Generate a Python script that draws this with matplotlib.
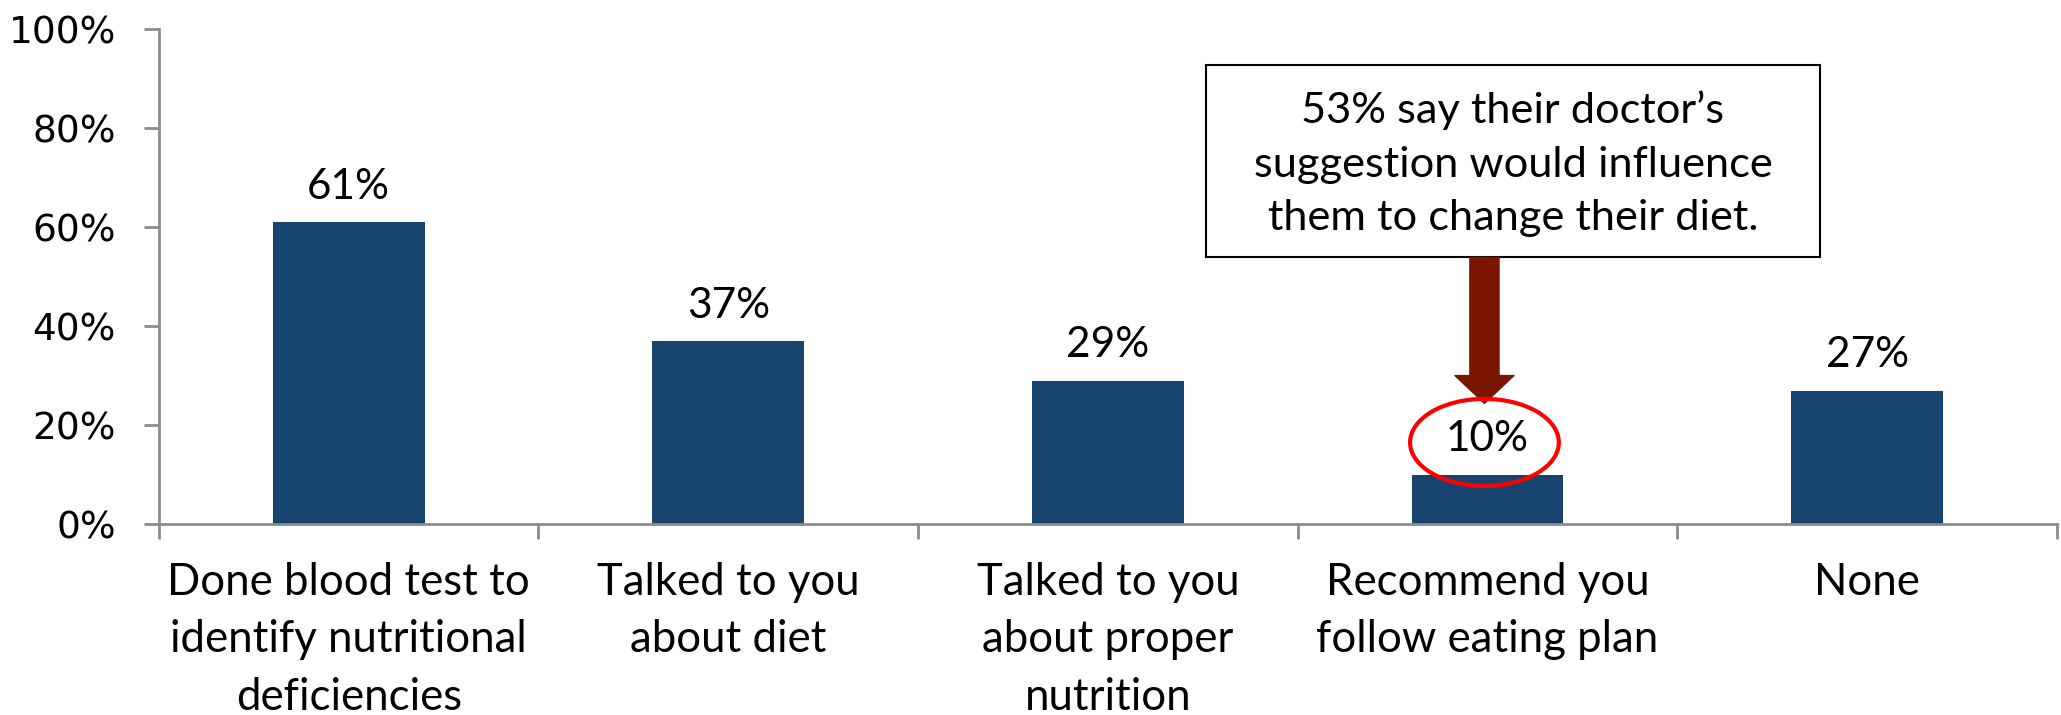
import matplotlib.pyplot as plt
from matplotlib.patches import Ellipse, Rectangle
from matplotlib.ticker import FixedLocator, FuncFormatter

# data
categories = ["Done blood test to\nidentify nutritional\ndeficiencies",
              "Talked to you\nabout diet",
              "Talked to you\nabout proper\nnutrition",
              "Recommend you\nfollow eating plan",
              "None"]
values = [61, 37, 29, 10, 27]
y_ticks = [0, 20, 40, 60, 80, 100]
callout_text = "53% say their doctor\u2019s\nsuggestion would influence\nthem to change their diet."
highlight = 3  # index of the circled bar

bar_color = "#17436F"
axis_color = "#8C8C8C"
label_font = "Lato"

fig = plt.figure(figsize=(20.61, 7.15), dpi=100)
ax = fig.add_axes([0.0771, 0.267, 0.9209, 0.692])

x = list(range(len(values)))
ax.bar(x, values, width=0.4, color=bar_color, zorder=2)
ax.set_xlim(-0.5, len(values) - 0.5)
ax.set_ylim(0, 100)

# spines
for s in ["top", "right"]:
    ax.spines[s].set_visible(False)
for s in ["left", "bottom"]:
    ax.spines[s].set_color(axis_color)
    ax.spines[s].set_linewidth(2)

# y axis
ax.yaxis.set_major_locator(FixedLocator(y_ticks))
ax.yaxis.set_major_formatter(FuncFormatter(lambda v, p: "%d%%" % v))
ax.tick_params(axis="y", length=11, width=2, color=axis_color, pad=20,
               labelsize=27, labelcolor="black")
for t in ax.get_yticklabels():
    t.set_fontfamily("DejaVu Sans")

# x axis: labels at centres, tick marks at boundaries
ax.set_xticks(x)
ax.set_xticklabels(categories, fontsize=31.5, fontfamily=label_font,
                   linespacing=1.5, va="top")
ax.tick_params(axis="x", which="major", length=0, pad=27)
ax.set_xticks([i - 0.5 for i in range(len(values) + 1)], minor=True)
ax.tick_params(axis="x", which="minor", length=11, width=2, color=axis_color,
               direction="out")

# value labels
for i, v in enumerate(values):
    ax.text(i, v + 3.3, "%d%%" % v, ha="center", va="bottom",
            fontsize=30.5, fontfamily=label_font)

# callout box
box_x0, box_x1 = 2.258, 3.876
box_y0, box_y1 = 53.9, 92.7
ax.add_patch(Rectangle((box_x0, box_y0), box_x1 - box_x0, box_y1 - box_y0,
                       facecolor="white", edgecolor="black", linewidth=1.5,
                       zorder=3, clip_on=False))
ax.text((box_x0 + box_x1) / 2, 72.8, callout_text,
        ha="center", va="center", fontsize=31.2, fontfamily=label_font,
        linespacing=1.5, zorder=4)

# arrow down to the circled value
arrow_x = highlight - 0.008
ax.annotate("", xy=(arrow_x, 24.4), xytext=(arrow_x, box_y0),
            arrowprops=dict(width=21, headwidth=42.5, headlength=20,
                            shrink=0, facecolor="#7A1600", edgecolor="#7A1600"),
            zorder=4)

# red ellipse round the label
ax.add_patch(Ellipse((arrow_x, 16.5), 0.392, 17.6, fill=False,
                     edgecolor="#FF0000", linewidth=3, zorder=5))

fig.savefig("out.png", dpi=100)
